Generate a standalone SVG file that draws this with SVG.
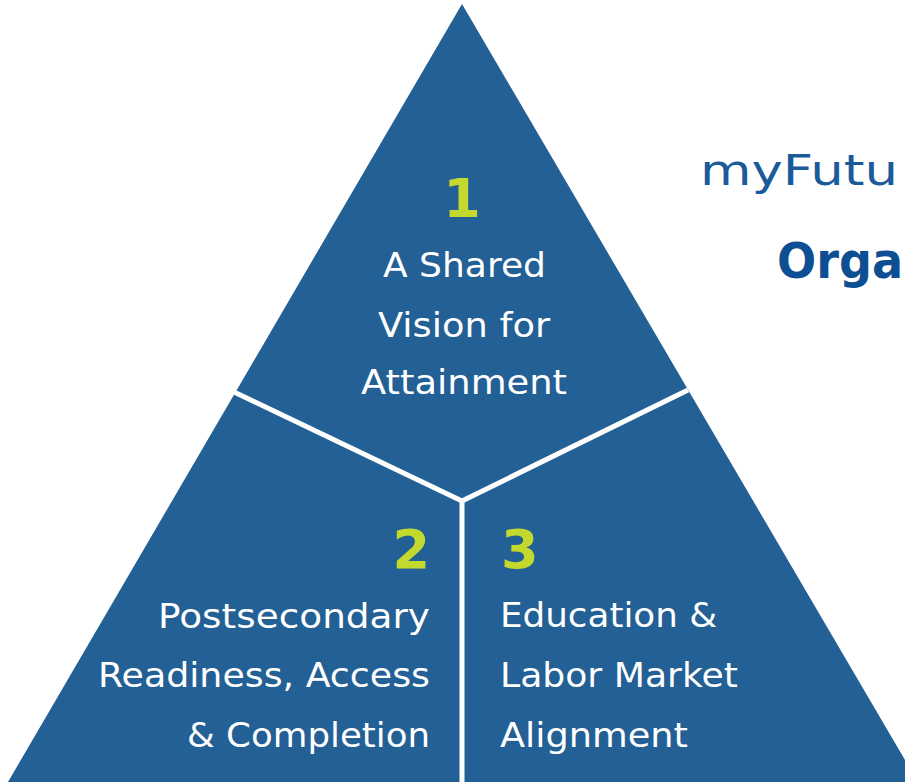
<svg xmlns="http://www.w3.org/2000/svg" width="905" height="782" viewBox="0 0 905 782">
<style>
.lbl{font-family:"DejaVu Sans","Liberation Sans",sans-serif;font-size:34px;fill:#ffffff;}
.num{font-family:"DejaVu Sans","Liberation Sans",sans-serif;font-size:54px;font-weight:bold;fill:#c3d92e;}
.div{stroke:#ffffff;stroke-width:5;fill:none;}
</style>
<rect width="905" height="782" fill="#ffffff"/>
<g id="pyramid">
<polygon points="462,4 8,782 905,782 905,760" fill="#236095"/>
</g>
<g id="connectors">
<line class="div" x1="234" y1="392" x2="462" y2="501"/>
<line class="div" x1="688" y1="390" x2="462" y2="501"/>
<line class="div" x1="462" y1="499" x2="462" y2="782"/>
</g>
<g id="node1">
<text class="num" x="462" y="217" text-anchor="middle">1</text>
<text class="lbl" x="383" y="277" textLength="163" lengthAdjust="spacingAndGlyphs">A Shared</text>
<text class="lbl" x="378" y="337" textLength="172" lengthAdjust="spacingAndGlyphs">Vision for</text>
<text class="lbl" x="361" y="394" textLength="206" lengthAdjust="spacingAndGlyphs">Attainment</text>
</g>
<g id="node2">
<text class="num" x="430" y="568" text-anchor="end">2</text>
<text class="lbl" x="158" y="628" textLength="272" lengthAdjust="spacingAndGlyphs">Postsecondary</text>
<text class="lbl" x="98" y="687" textLength="332" lengthAdjust="spacingAndGlyphs">Readiness, Access</text>
<text class="lbl" x="187" y="747" textLength="243" lengthAdjust="spacingAndGlyphs">&amp; Completion</text>
</g>
<g id="node3">
<text class="num" x="501" y="568">3</text>
<text class="lbl" x="500" y="627" textLength="217" lengthAdjust="spacingAndGlyphs">Education &amp;</text>
<text class="lbl" x="500" y="687" textLength="238" lengthAdjust="spacingAndGlyphs">Labor Market</text>
<text class="lbl" x="500" y="747" textLength="188" lengthAdjust="spacingAndGlyphs">Alignment</text>
</g>
<g id="title">
<text x="700" y="185" textLength="198" lengthAdjust="spacingAndGlyphs" style="font-family:'DejaVu Sans','Liberation Sans',sans-serif;font-size:43px;fill:#1b5a9b;">myFutu</text>
<text x="777" y="278" textLength="126" lengthAdjust="spacingAndGlyphs" style="font-family:'DejaVu Sans','Liberation Sans',sans-serif;font-size:49px;font-weight:bold;fill:#0e4e93;">Orga</text>
</g>
</svg>
